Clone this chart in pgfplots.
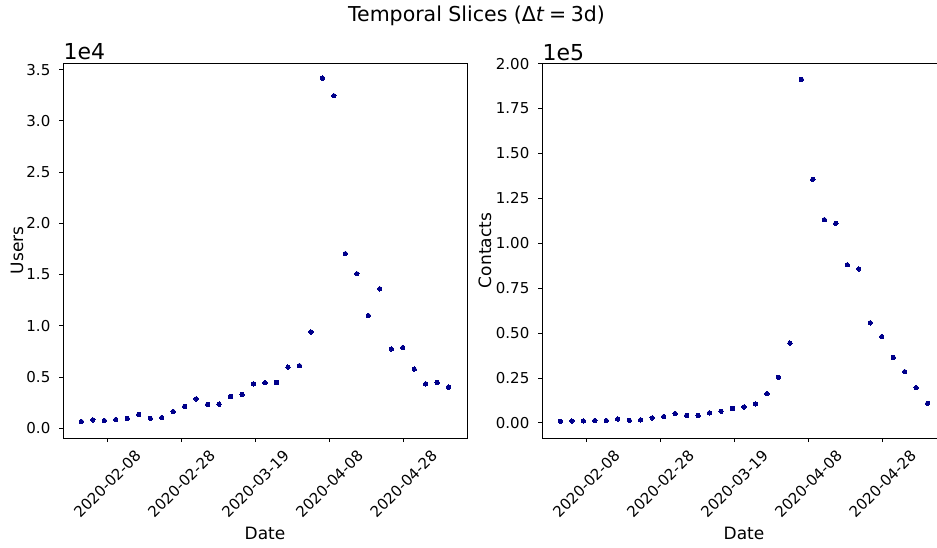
\documentclass[border=0pt]{standalone}
\usepackage{fontspec}
\setmainfont{DejaVu Sans}
\usepackage{graphicx}
\usepackage{pgfplots}
\pgfplotsset{compat=1.18}
\definecolor{dotblue}{RGB}{0,0,139}

\pgfplotstableread{
x y
-7.0 650
-3.9 820
-0.8 750
2.3 850
5.4 950
8.5 1340
11.6 980
14.7 1040
17.8 1630
20.9 2120
24.0 2870
27.1 2320
30.2 2350
33.3 3100
36.4 3300
39.5 4340
42.6 4440
45.7 4470
48.8 5970
51.9 6110
55.0 9400
58.1 34180
61.2 32450
64.3 17040
67.4 15080
70.5 11000
73.6 13610
76.7 7740
79.8 7870
82.9 5780
86.0 4340
89.1 4470
92.2 4020
}\users

\pgfplotstableread{
x y
-7.0 930
-3.9 1100
-0.8 1100
2.3 1300
5.4 1300
8.5 2200
11.6 1500
14.7 1700
17.8 2800
20.9 3500
24.0 5200
27.1 4100
30.2 4100
33.3 5600
36.4 6500
39.5 8000
42.6 8900
45.7 10600
48.8 16300
51.9 25400
55.0 44400
58.1 191100
61.2 135600
64.3 113100
67.4 111100
70.5 88000
73.6 85700
76.7 55700
79.8 48000
82.9 36500
86.0 28500
89.1 19600
92.2 10900
}\contacts

\pgfplotsset{
  mystyle/.style={
    scale only axis, width=404pt, height=375pt,
    anchor=south west,
    xmin=-11.96, xmax=97.16,
    xtick={0,20,40,60,80},
    xticklabels={\rotatebox{45}{2020-02-08},\rotatebox{45}{2020-02-28},\rotatebox{45}{2020-03-19},\rotatebox{45}{2020-04-08},\rotatebox{45}{2020-04-28}},
    xticklabel style={anchor=north, inner sep=0pt, yshift=-7pt},
    yticklabel style={anchor=east, inner sep=0pt, xshift=-8.5pt},
    tick pos=left, tick align=outside, major tick length=4pt,
    axis line style={line width=0.9pt},
    every tick/.style={black, line width=0.9pt},
    tick label style={font=\fontsize{15}{18}\selectfont},
    /pgf/number format/assume math mode=true,
    xlabel=Date,
    every axis x label/.style={at={(axis description cs:0.5,-0.2533)}, anchor=center, font=\fontsize{17}{20}\selectfont},
    every y tick scale label/.style={at={(rel axis cs:0,1)}, anchor=base west, inner sep=0pt, xshift=9pt, yshift=3pt, font=\fontsize{22}{26}\selectfont},
  }
}

\begin{document}
\begin{tikzpicture}
\begin{axis}[mystyle, at={(63pt,109pt)},
  ymin=-950, ymax=35650,
  ytick={0,5000,10000,15000,20000,25000,30000,35000},
  scaled y ticks=base 10:-4,
  ytick scale label code/.code={1e4},
  yticklabel style={/pgf/number format/fixed, /pgf/number format/fixed zerofill, /pgf/number format/precision=1},
  ylabel=Users,
  every axis y label/.style={at={(axis description cs:-0.114,0.5)}, rotate=90, anchor=center, font=\fontsize{17}{20}\selectfont}]
\addplot[only marks, mark=*, mark size=2.2pt, mark options={draw=dotblue, fill=dotblue, line width=0pt}] table[x=x, y=y] {\users};
\end{axis}
\begin{axis}[mystyle, at={(542pt,109pt)},
  ymin=-8400, ymax=200300,
  ytick={0,25000,50000,75000,100000,125000,150000,175000,200000},
  scaled y ticks=base 10:-5,
  ytick scale label code/.code={1e5},
  yticklabel style={/pgf/number format/fixed, /pgf/number format/fixed zerofill, /pgf/number format/precision=2},
  ylabel=Contacts,
  every axis y label/.style={at={(axis description cs:-0.141,0.5)}, rotate=90, anchor=center, font=\fontsize{17}{20}\selectfont}]
\addplot[only marks, mark=*, mark size=2.2pt, mark options={draw=dotblue, fill=dotblue, line width=0pt}] table[x=x, y=y] {\contacts};
\end{axis}
\node[anchor=base, font=\fontsize{20.5}{24}\selectfont] at (476.5pt,525pt) {Temporal Slices (Δ\textit{t}\hspace{0.22em}=\hspace{0.22em}3d)};
\pgfresetboundingbox
\useasboundingbox (0,0) rectangle (937pt,547pt);
\end{tikzpicture}
\end{document}
